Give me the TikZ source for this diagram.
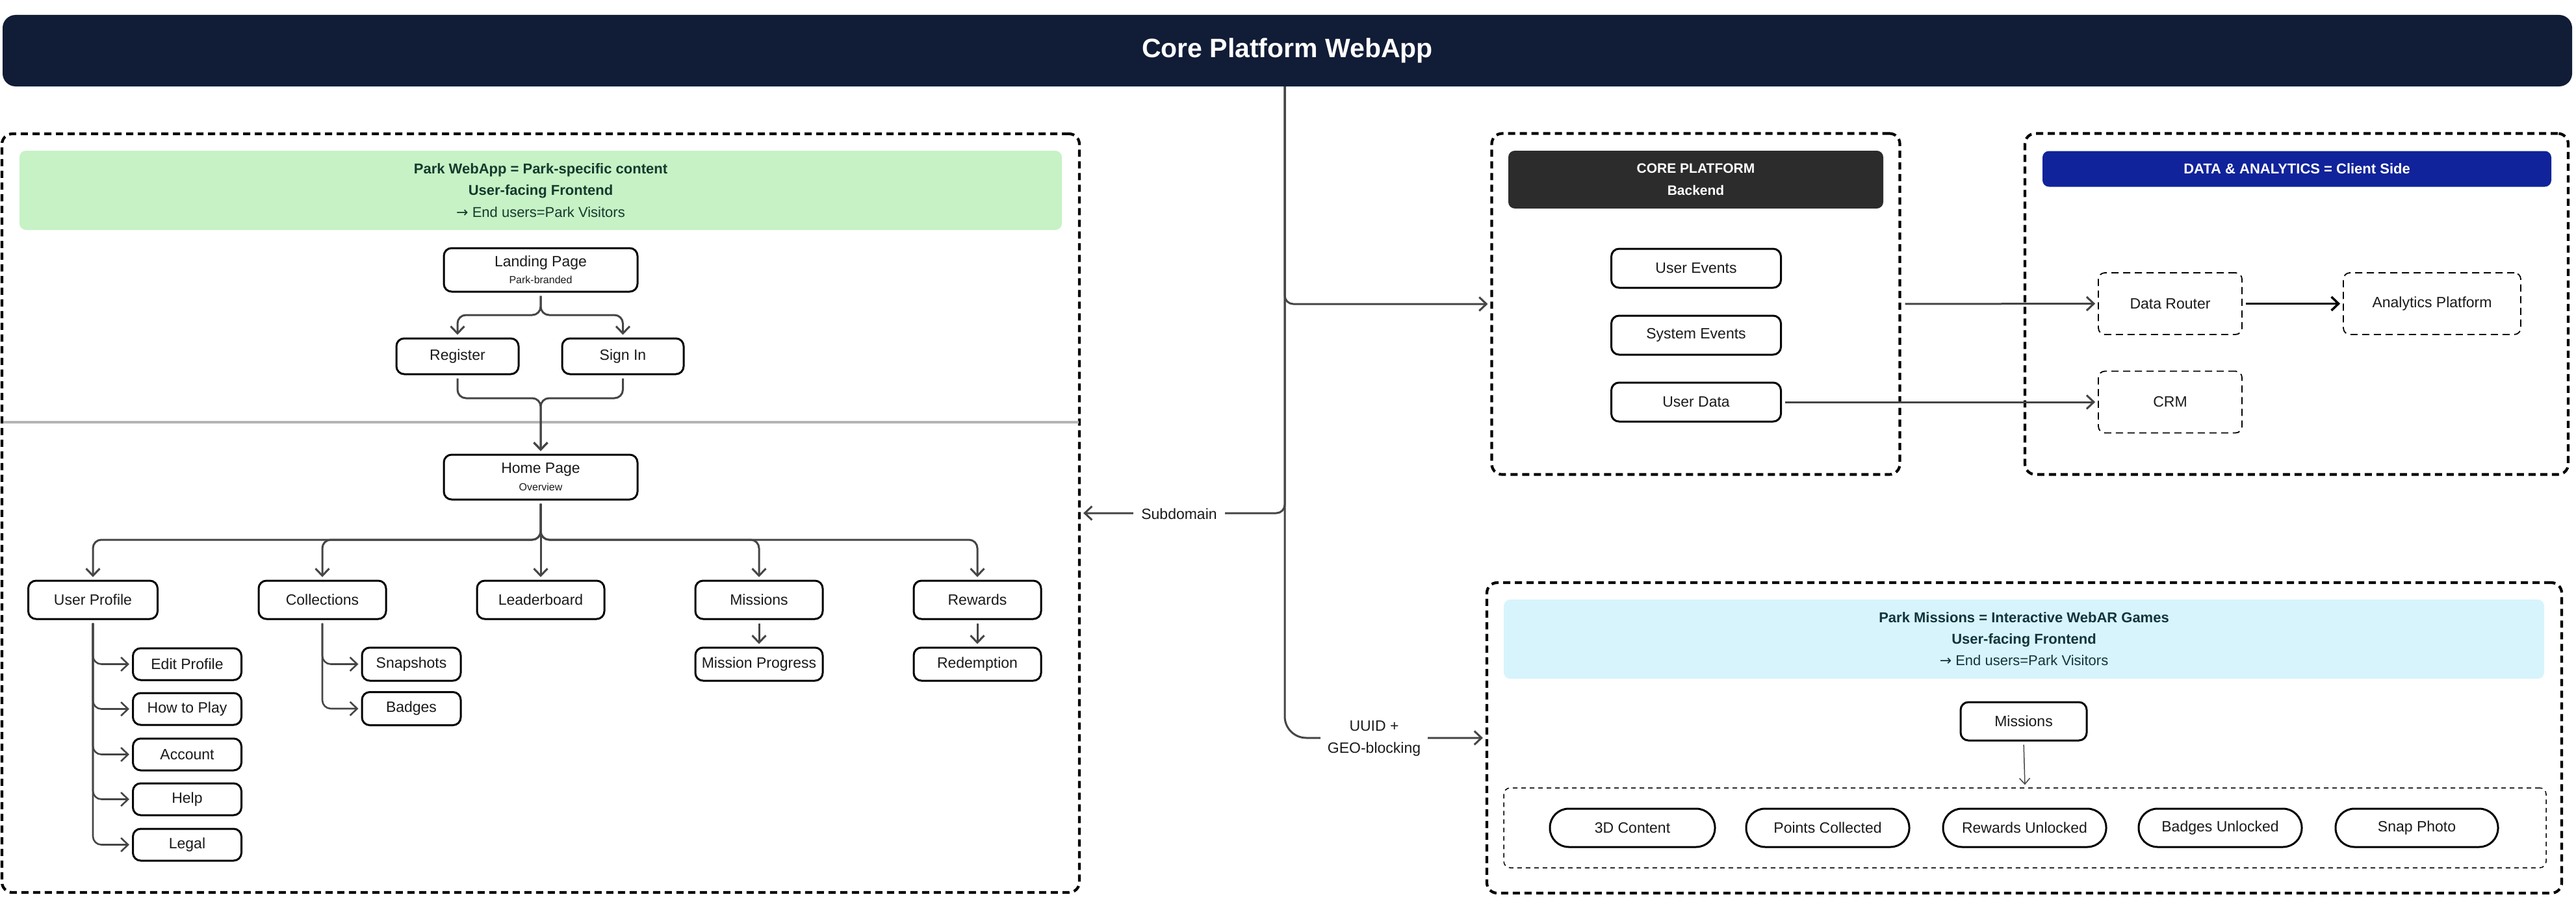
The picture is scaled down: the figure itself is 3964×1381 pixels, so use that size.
\documentclass[tikz,border=0pt]{standalone}
\usepackage{fontspec}
\setmainfont{Liberation Sans}
\newfontfamily\djv{DejaVu Sans}
\usetikzlibrary{arrows.meta,calc}
\definecolor{navy}{HTML}{111C36}
\definecolor{greenbg}{HTML}{C6F2C6}
\definecolor{greentx}{HTML}{163A2C}
\definecolor{cyanbg}{HTML}{D7F4FC}
\definecolor{cyantx}{HTML}{12343C}
\definecolor{corebg}{HTML}{2C2C2C}
\definecolor{bluebg}{HTML}{10239A}
\definecolor{lineclr}{HTML}{454545}
\definecolor{sepclr}{HTML}{B4B4B4}
\definecolor{txt}{HTML}{1A1A1A}
\newcommand\fsNode{\fontsize{23}{28}\selectfont}
\newcommand\fsSmall{\fontsize{16}{20}\selectfont}
\newcommand\fsHead{\fontsize{22}{33.5}\selectfont}
\newcommand\fsTitle{\fontsize{41}{48}\selectfont\bfseries}
\tikzset{
  box/.style={draw=black, line width=3pt, fill=white, rounded corners=12pt, align=center,
    inner sep=0pt, font=\fsNode, text=txt},
  pill/.style={box, rounded corners=29pt, minimum height=59pt, minimum width=251pt},
  dbox/.style={draw=black, line width=1.8pt, dash pattern=on 11pt off 7pt, fill=white,
    rounded corners=10pt, align=center, inner sep=0pt, font=\fsNode, text=txt},
  outerbox/.style={draw=black, line width=4.2pt, dash pattern=on 11pt off 7pt, rounded corners=16pt, inner sep=0pt},
  header/.style={rounded corners=10pt, inner sep=0pt, align=center, font=\fsHead},
  conn/.style={draw=lineclr, line width=3pt, rounded corners=13pt,
    -{Straight Barb[length=11pt,width=21pt]}, shorten >=4pt, shorten <=5pt},
  lbl/.style={fill=white, inner xsep=12pt, inner ysep=4pt, font=\fsNode, text=txt, align=center},
}
\begin{document}
\begin{tikzpicture}[x=1pt,y=-1pt]
\useasboundingbox (0,0) rectangle (3964,1381);
% title
\node[fill=navy, rounded corners=20pt, minimum width=3954pt, minimum height=110pt, inner sep=0pt,
  text=white, font=\fsTitle] (title) at (1981,78) {Core Platform WebApp};

% outer containers
\node[outerbox, minimum width=1658pt, minimum height=1168pt] (leftbox) at (832,790) {};
\node[outerbox, minimum width=628pt, minimum height=525pt] (corebox) at (2609.5,468) {};
\node[outerbox, minimum width=836pt, minimum height=525pt] (dabox) at (3534,468) {};
\node[outerbox, minimum width=1654pt, minimum height=478pt] (mbox) at (3115,1136) {};

% separator
\coordinate (sepL) at (5,650);
\coordinate (sepR) at (1660,650);
\draw[sepclr, line width=4.5pt] (sepL) -- (sepR);

% headers
\node[header, fill=greenbg, text=greentx, minimum width=1604pt, minimum height=122pt] (ghead) at (832,293)
  {\textbf{Park WebApp = Park-specific content}\\\textbf{User-facing Frontend}\\{\djv →} End users=Park Visitors};
\node[header, fill=corebg, text=white, minimum width=577pt, minimum height=89pt, font=\fontsize{21}{34}\selectfont\bfseries] (chead) at (2609.5,276.5)
  {CORE PLATFORM\\Backend};
\node[header, fill=bluebg, text=white, minimum width=783pt, minimum height=55pt, font=\fontsize{22}{28}\selectfont\bfseries] (bhead) at (3534.5,260)
  {DATA \& ANALYTICS = Client Side};
\node[header, fill=cyanbg, text=cyantx, minimum width=1601pt, minimum height=122pt, font=\fontsize{22}{33}\selectfont] (chead2) at (3114.5,984)
  {\textbf{Park Missions = Interactive WebAR Games}\\\textbf{User-facing Frontend}\\{\djv →} End users=Park Visitors};

% left side nodes
\node[box, minimum width=298pt, minimum height=67pt] (landing) at (832,415.5) {Landing Page\\[-2pt]{\fsSmall Park-branded}};
\node[box, minimum width=188pt, minimum height=55pt] (register) at (704,548.5) {Register};
\node[box, minimum width=187pt, minimum height=55pt] (signin) at (958.5,548.5) {Sign In};
\node[box, minimum width=298pt, minimum height=69pt] (home) at (832,734.5) {Home Page\\[-1pt]{\fsSmall Overview}};

\node[box, minimum width=199pt, minimum height=59pt] (userprofile) at (143,923.5) {User Profile};
\node[box, minimum width=196pt, minimum height=59pt] (collections) at (496,923.5) {Collections};
\node[box, minimum width=196pt, minimum height=59pt] (leaderboard) at (832,923.5) {Leaderboard};
\node[box, minimum width=196pt, minimum height=59pt] (missions) at (1168,923.5) {Missions};
\node[box, minimum width=196pt, minimum height=59pt] (rewards) at (1504,923.5) {Rewards};

\node[box, minimum width=196pt, minimum height=51pt] (mprogress) at (1168,1022.5) {Mission Progress};
\node[box, minimum width=196pt, minimum height=51pt] (redemption) at (1504,1022.5) {Redemption};

\node[box, minimum width=167pt, minimum height=49pt] (editprofile) at (288,1022.5) {Edit Profile};
\node[box, minimum width=167pt, minimum height=49pt] (howtoplay) at (288,1091.5) {How to Play};
\node[box, minimum width=167pt, minimum height=49pt] (account) at (288,1161.5) {Account};
\node[box, minimum width=167pt, minimum height=49pt] (help) at (288,1230.5) {Help};
\node[box, minimum width=167pt, minimum height=49pt] (legal) at (288,1300.5) {Legal};

\node[box, minimum width=152pt, minimum height=51pt] (snapshots) at (633,1022.5) {Snapshots};
\node[box, minimum width=152pt, minimum height=51pt] (badges) at (633,1091) {Badges};

% core platform nodes
\node[box, minimum width=261pt, minimum height=60pt] (userevents) at (2610,413) {User Events};
\node[box, minimum width=261pt, minimum height=60pt] (sysevents) at (2610,516) {System Events};
\node[box, minimum width=261pt, minimum height=60pt] (userdata) at (2610,619) {User Data};

% data & analytics nodes
\node[dbox, minimum width=221pt, minimum height=95pt] (router) at (3339.5,467.5) {Data Router};
\node[dbox, minimum width=273pt, minimum height=95pt] (analytics) at (3742.5,467.5) {Analytics Platform};
\node[dbox, minimum width=221pt, minimum height=95pt] (crm) at (3339.5,619) {CRM};

% park missions nodes
\node[box, minimum width=194pt, minimum height=59pt] (pmissions) at (3114,1110.5) {Missions};
\node[dbox, line width=1.5pt, dash pattern=on 7pt off 6pt, minimum width=1604pt, minimum height=123pt] (pillbox) at (3116,1274.5) {};
\node[pill, minimum width=254pt] (p3d) at (2512,1274.5) {3D Content};
\node[pill] (ppoints) at (2812.5,1274.5) {Points Collected};
\node[pill] (prewards) at (3115.5,1274.5) {Rewards Unlocked};
\node[pill] (pbadges) at (3416.5,1274.5) {Badges Unlocked};
\node[pill, minimum width=250pt] (psnap) at (3719,1274.5) {Snap Photo};

% left connectors
\coordinate (lsplit) at (832,485);
\draw[conn] (landing.south) -- (lsplit) -| (register.north);
\draw[conn] (landing.south) -- (lsplit) -| (signin.north);
\coordinate (lmerge) at (832,613);
\draw[conn] (register.south) |- (lmerge) -- (home.north);
\draw[conn] (signin.south) |- (lmerge) -- (home.north);

\coordinate (hsplit) at (832,831);
\draw[conn] (home.south) -- (hsplit) -| (userprofile.north);
\draw[conn] (home.south) -- (hsplit) -| (collections.north);
\draw[conn] (home.south) -- (leaderboard.north);
\draw[conn] (home.south) -- (hsplit) -| (missions.north);
\draw[conn] (home.south) -- (hsplit) -| (rewards.north);

\draw[conn] (missions.south) -- (mprogress.north);
\draw[conn] (rewards.south) -- (redemption.north);

\foreach \n in {editprofile,howtoplay,account,help,legal}{
  \draw[conn, line width=2.6pt] (userprofile.south) |- (\n.west);
}
\foreach \n in {snapshots,badges}{
  \draw[conn, line width=2.6pt] (collections.south) |- (\n.west);
}

% trunk connectors
\coordinate (trunk) at (1977,133);
\draw[conn, shorten <=0pt] (trunk) |- (corebox.west);
\draw[conn, shorten <=0pt] (trunk) |- (leftbox.east);
\draw[conn, shorten <=0pt, rounded corners=33pt] (trunk) |- (mbox.west);
\node[lbl] (subd) at (1814.5,791) {Subdomain};
\node[lbl, inner xsep=11pt] (uuid) at (2114.5,1137) {UUID +\\[6pt]GEO-blocking};

% right connectors
\draw[conn, shorten <=6pt] (corebox.east) -- (router.west);
\draw[conn] (userdata.east) -- (crm.west);
\draw[conn, draw=black, line width=3.5pt] (router.east) -- (analytics.west);
\draw[conn, line width=1.5pt, -{Straight Barb[length=9pt,width=16pt]}] (pmissions.south) -- (pillbox.north);
\end{tikzpicture}
\end{document}
